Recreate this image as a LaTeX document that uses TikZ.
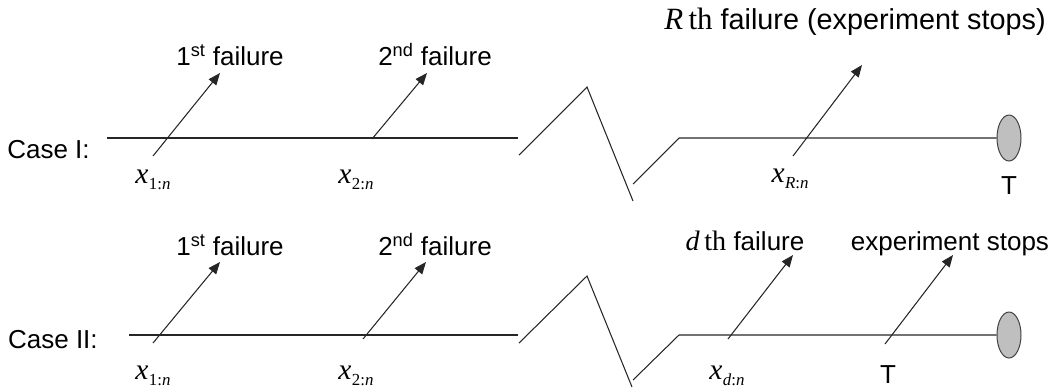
\documentclass[tikz,border=0pt]{standalone}
\usepackage{fontspec}
\setmainfont{Liberation Sans}
\newfontfamily\tms{Liberation Serif}
\usetikzlibrary{arrows.meta,shapes.geometric}

% x con subindice de orden
\newcommand{\xord}[1]{{\tms\fontsize{21}{21}\selectfont\itshape x}\kern0.3pt\raisebox{-0.45ex}{\tms\fontsize{12}{12}\selectfont #1:\textit{n}}}
\newcommand{\rmth}[2]{{\tms\fontsize{#2}{#2}\selectfont\itshape #1\,\upshape th}}

\tikzset{
  eje/.style={line width=0.75pt, draw=black!85},
  falla/.style={line width=0.75pt, draw=black!85, -{Triangle[length=3mm,width=2.4mm]}},
  etiq/.style={font=\fontsize{18.5}{20}\selectfont, inner sep=0pt, anchor=base},
  tope/.style={ellipse, draw=black!75, fill=black!25, line width=0.7pt,
    minimum width=6mm, minimum height=11.5mm, inner sep=0pt}
}

\begin{document}
\begin{tikzpicture}[x=0.25mm, y=-0.25mm]
    \useasboundingbox (0,0) rectangle (1055,387);

    % Caso I
    \node[etiq, anchor=base east] (caso1) at (90,158) {Case I:};
    \node[tope] (fin1) at (1009,138) {};
    \coordinate (a0) at (107,138);
    \coordinate (a1) at (518,138);
    \coordinate (za1) at (519,155);
    \coordinate (za2) at (587,87);
    \coordinate (za3) at (633,201);
    \coordinate (za4) at (633,184);
    \coordinate (za5) at (679,138);
    \draw[eje] (a0) -- (a1);
    \draw[eje] (za1) -- (za2) -- (za3);
    \draw[eje] (za4) -- (za5) -- (fin1.west);

    % Fallas del caso I
    \coordinate (fa1) at (153,156); \coordinate (ga1) at (220,73);
    \coordinate (fa2) at (372,139); \coordinate (ga2) at (427,73);
    \coordinate (faR) at (793,156); \coordinate (gaR) at (862,65);
    \draw[falla] (fa1) -- (ga1);
    \draw[falla] (fa2) -- (ga2);
    \draw[falla] (faR) -- (gaR);

    \node[etiq] (ta1) at (230,65) {1\textsuperscript{st} failure};
    \node[etiq] (ta2) at (435,65) {2\textsuperscript{nd} failure};
    \node[etiq, anchor=base east, font=\fontsize{20.5}{22}\selectfont] (taR) at (1046,29)
        {\rmth{R}{22}\ failure (experiment stops)};

    \node[etiq] (xa1) at (153,183) {\xord{1}};
    \node[etiq] (xa2) at (356,183) {\xord{2}};
    \node[etiq] (xaR) at (790,182) {\xord{\textit{R}}};
    \node[etiq] (Ta) at (1009,194) {T};

    % Caso II
    \node[etiq, anchor=base east] (caso2) at (98,348) {Case II:};
    \node[tope] (fin2) at (1009,335) {};
    \coordinate (b0) at (129,335);
    \coordinate (b1) at (518,335);
    \coordinate (zb1) at (519,343);
    \coordinate (zb2) at (587,276);
    \coordinate (zb3) at (632,387);
    \coordinate (zb4) at (633,380);
    \coordinate (zb5) at (679,335);
    \draw[eje] (b0) -- (b1);
    \draw[eje] (zb1) -- (zb2) -- (zb3);
    \draw[eje] (zb4) -- (zb5) -- (fin2.west);

    % Fallas del caso II
    \coordinate (fb1) at (153,343); \coordinate (gb1) at (220,262);
    \coordinate (fb2) at (363,339); \coordinate (gb2) at (426,262);
    \coordinate (fbd) at (728,339); \coordinate (gbd) at (793,255);
    \coordinate (fbT) at (885,344); \coordinate (gbT) at (953,255);
    \draw[falla] (fb1) -- (gb1);
    \draw[falla] (fb2) -- (gb2);
    \draw[falla] (fbd) -- (gbd);
    \draw[falla] (fbT) -- (gbT);

    \node[etiq] (tb1) at (230,255) {1\textsuperscript{st} failure};
    \node[etiq] (tb2) at (435,255) {2\textsuperscript{nd} failure};
    \node[etiq] (tbd) at (745,250) {\rmth{d}{20} failure};
    \node[etiq] (tbT) at (950,250) {experiment stops};

    \node[etiq] (xb1) at (153,379) {\xord{1}};
    \node[etiq] (xb2) at (356,379) {\xord{2}};
    \node[etiq] (xbd) at (727,379) {\xord{\textit{d}}};
    \node[etiq] (Tb) at (888,383) {T};
\end{tikzpicture}
\end{document}
